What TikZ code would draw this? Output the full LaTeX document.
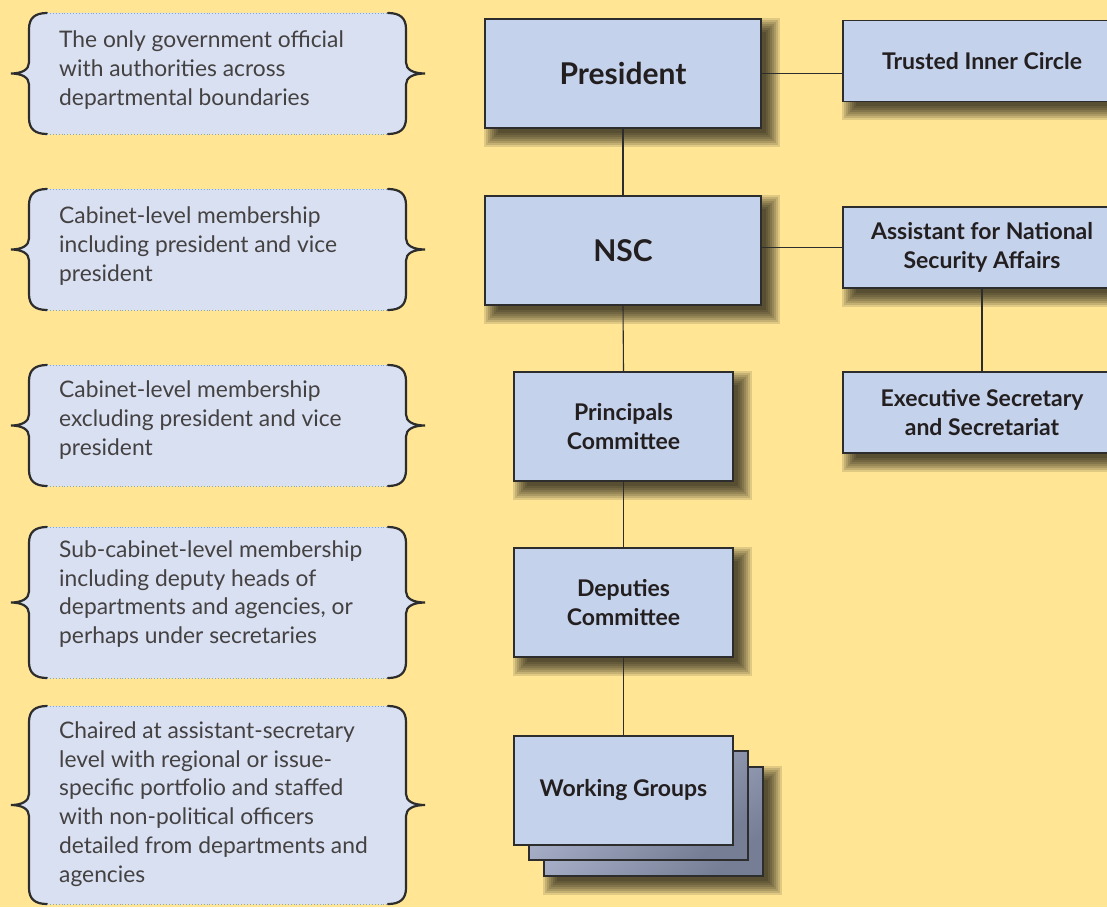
\documentclass[tikz,border=0pt]{standalone}
\usepackage{fontspec}
\setsansfont{Lato}
\usepackage{tikz}
\pgfdeclarelayer{bg}
\pgfdeclarelayer{shadow}
\pgfsetlayers{bg,shadow,main}
\definecolor{bgyellow}{RGB}{255,229,148}
\definecolor{boxblue}{RGB}{197,210,235}
\definecolor{backlight}{RGB}{182,191,215}
\definecolor{backdark}{RGB}{118,126,150}
\definecolor{notefill}{RGB}{217,224,241}
\definecolor{dotblue}{RGB}{120,168,225}
\definecolor{linegray}{RGB}{45,45,45}
\definecolor{textdark}{RGB}{35,31,32}

% brace-edged note box: #1 top, #2 bottom
\newcommand{\bracebox}[2]{%
  \pgfmathsetmacro{\bbmid}{(#1+#2)/2}
  \fill[notefill] (47,#1) .. controls (35,#1) and (29,{#1+5}) .. (29,{#1+16})
    -- (29,{\bbmid-11}) .. controls (29,{\bbmid-4}) and (22,\bbmid) .. (11,\bbmid)
    .. controls (22,\bbmid) and (29,{\bbmid+4}) .. (29,{\bbmid+11})
    -- (29,{#2-16}) .. controls (29,{#2-5}) and (35,#2) .. (47,#2)
    -- (388,#2) .. controls (400,#2) and (406,{#2-5}) .. (406,{#2-16})
    -- (406,{\bbmid+11}) .. controls (406,{\bbmid+4}) and (413,\bbmid) .. (425,\bbmid)
    .. controls (413,\bbmid) and (406,{\bbmid-4}) .. (406,{\bbmid-11})
    -- (406,{#1+16}) .. controls (406,{#1+5}) and (400,#1) .. (388,#1) -- cycle;
  \draw[bracepen] (47,#1) .. controls (35,#1) and (29,{#1+5}) .. (29,{#1+16})
    -- (29,{\bbmid-11}) .. controls (29,{\bbmid-4}) and (22,\bbmid) .. (11,\bbmid)
    .. controls (22,\bbmid) and (29,{\bbmid+4}) .. (29,{\bbmid+11})
    -- (29,{#2-16}) .. controls (29,{#2-5}) and (35,#2) .. (47,#2);
  \draw[bracepen] (388,#1) .. controls (400,#1) and (406,{#1+5}) .. (406,{#1+16})
    -- (406,{\bbmid-11}) .. controls (406,{\bbmid-4}) and (413,\bbmid) .. (425,\bbmid)
    .. controls (413,\bbmid) and (406,{\bbmid+4}) .. (406,{\bbmid+11})
    -- (406,{#2-16}) .. controls (406,{#2-5}) and (400,#2) .. (388,#2);
  \draw[dotted,dotblue,line width=0.9pt] (47,#1) -- (388,#1);
  \draw[dotted,dotblue,line width=0.9pt] (47,#2) -- (388,#2);
}

\begin{document}
\begin{tikzpicture}[x=1pt,y=-1pt,
  bracepen/.style={draw=linegray,line width=2.2pt,line cap=round},
  notetext/.style={anchor=west,align=left,inner sep=0pt,text=textdark!85,
    font=\sffamily\fontsize{22.8}{28.7}\selectfont},
  unit/.style={draw=linegray,line width=1.3pt,fill=boxblue,align=center,
    text=textdark,font=\sffamily\bfseries\fontsize{23}{29.5}\selectfont,
    minimum width=219pt,minimum height=109pt,inner sep=0pt},
  bigunit/.style={unit,minimum width=276pt,font=\sffamily\bfseries\fontsize{30}{34}\selectfont},
  sideunit/.style={unit,minimum width=278pt,minimum height=81pt},
  backunit/.style={unit,top color=backlight,bottom color=backdark,shading angle=40},
  softshade/.style={fill=black,opacity=0.12},
  link/.style={draw=linegray,line width=1.1pt}]
	\useasboundingbox (0,0) rectangle (1107,907);
	\clip (0,0) rectangle (1107,907);
	\begin{pgfonlayer}{bg}
	\fill[bgyellow] (0,0) rectangle (1107,907);
	\end{pgfonlayer}
	%
	\bracebox{13}{134}
	\bracebox{189}{310}
	\bracebox{365}{486}
	\bracebox{527}{678}
	\bracebox{706}{904}
	\node[notetext] (note1) at (59,70) {The only government official\\with authorities across\\departmental boundaries};
	\node[notetext] (note2) at (59,246) {Cabinet-level membership\\including president and vice\\president};
	\node[notetext] (note3) at (59,420) {Cabinet-level membership\\excluding president and vice\\president};
	\node[notetext] (note4) at (59,594) {Sub-cabinet-level membership\\including deputy heads of\\departments and agencies, or\\perhaps under secretaries};
	\node[notetext] (note5) at (59,804) {Chaired at assistant-secretary\\level with regional or issue-\\specific portfolio and staffed\\with non-political officers\\detailed from departments and\\agencies};
	%
	\node[bigunit] (pres) at (623,73.5) {President};
	\node[bigunit] (nsc) at (623,250.5) {NSC};
	\node[sideunit] (trusted) at (982,61) {Trusted Inner Circle};
	\node[sideunit] (apnsa) at (982,247.5) {Assistant for National\\Security Affairs};
	\node[sideunit] (execsec) at (982,412.5) {Executive Secretary\\and Secretariat};
	\node[unit] (pc) at (623.5,426.5) {Principals\\Committee};
	\node[unit] (dc) at (623.5,602.5) {Deputies\\Committee};
	\node[backunit] (wg3) at (653.5,821.5) {};
	\node[backunit] (wg2) at (638.5,805.5) {};
	\node[unit] (wg) at (623.5,790.5) {Working Groups};
	%
	\begin{pgfonlayer}{shadow}
	\foreach \n in {pres,nsc,trusted,apnsa,execsec,pc,dc,wg3}
	  \foreach \k in {1,...,8}
	    \fill[softshade] ([shift={({16-2*\k},{16-2*\k})}]\n.north west)
	      rectangle ([shift={({2*\k+2},{2*\k+2})}]\n.south east);
	\end{pgfonlayer}
	%
	\draw[link] (pres.south) -- (nsc.north);
	\draw[link] (pres.east) -- (pres.east -| trusted.west);
	\draw[link] (apnsa.west) -- (apnsa.west -| nsc.east);
	\draw[link] (apnsa.south) -- (execsec.north);
	\draw[link] (nsc.south) -- (pc.north);
	\draw[link] (pc.south) -- (dc.north);
	\draw[link] (dc.south) -- (wg.north);
\end{tikzpicture}
\end{document}
